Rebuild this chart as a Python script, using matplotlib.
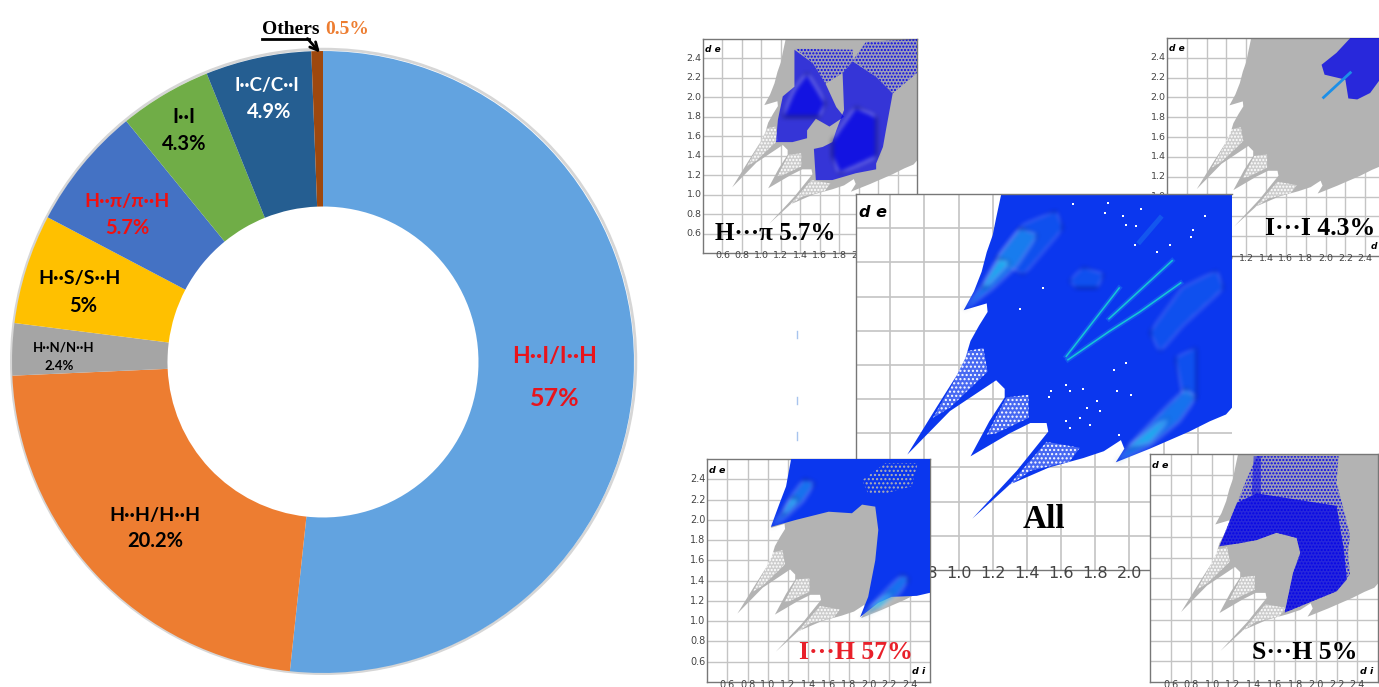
import matplotlib
matplotlib.use('Agg')
import matplotlib.pyplot as plt
from matplotlib.patches import Polygon, Circle
from matplotlib.lines import Line2D
import numpy as np

W, H = 1379, 687

# Doughnut: slice sizes as drawn (they differ a little from the printed labels)
slice_names = ['H-I', 'H-H', 'H-N', 'H-S', 'H-pi', 'I-I', 'I-C', 'Others']
slice_sizes = [51.7, 22.6, 2.7, 5.7, 6.4, 4.8, 5.5, 0.6]
slice_colors = ['#62a3e0', '#ed7d31', '#a5a5a5', '#ffc000', '#4472c4', '#70ad47', '#255e91', '#9e480e']
slice_labels = ['H··I/I··H', 'H··H/H··H', 'H··N/N··H', 'H··S/S··H', 'H··π/π··H', 'I··I', 'I··C/C··I']
slice_values = ['57%', '20.2%', '2.4%', '5%', '5.7%', '4.3%', '4.9%']

# Fingerprint outlines, (di, de)
outline = [(1.25, 2.6), (1.22, 2.46), (1.20, 2.36), (1.165, 2.26), (1.135, 2.145), (1.09, 2.03), (1.03, 1.92),
           (1.165, 1.96), (1.17, 1.91), (1.12, 1.83), (1.07, 1.74), (1.04, 1.64), (0.99, 1.54), (0.87, 1.35),
           (0.70, 1.075), (0.95, 1.33), (1.22, 1.51), (1.27, 1.46), (1.27, 1.41), (1.18, 1.27), (1.07, 1.065),
           (1.30, 1.20), (1.42, 1.26), (1.515, 1.26), (1.525, 1.21), (1.34, 0.98), (1.08, 0.70), (1.30, 0.90),
           (1.53, 1.00), (1.73, 1.055), (1.85, 1.095), (1.95, 1.16), (1.97, 1.11), (1.92, 1.03), (2.12, 1.11),
           (2.35, 1.21), (2.47, 1.27), (2.565, 1.31), (2.6, 1.35), (2.6, 2.6)]
speckle_a = [(1.05, 1.68), (1.145, 1.70), (1.17, 1.56), (0.95, 1.35), (0.85, 1.29), (0.97, 1.50)]
speckle_b = [(1.28, 1.41), (1.41, 1.425), (1.41, 1.29), (1.22, 1.20), (1.165, 1.19)]
speckle_c = [(1.515, 1.15), (1.71, 1.115), (1.65, 1.035), (1.42, 0.98), (1.28, 0.88)]
light_a = [(1.03, 1.92), (1.145, 2.07), (1.24, 2.24), (1.36, 2.40), (1.46, 2.36), (1.34, 2.18), (1.20, 2.05)]
core_a = [(1.135, 2.05), (1.24, 2.22), (1.30, 2.20), (1.165, 2.06)]
light_b = [(1.92, 1.03), (2.06, 1.19), (2.235, 1.37), (2.33, 1.46), (2.39, 1.41), (2.29, 1.27), (2.12, 1.13)]
core_b = [(1.98, 1.11), (2.16, 1.25), (2.235, 1.29), (2.12, 1.15)]
faint_c = [(1.65, 2.09), (1.73, 2.17), (1.85, 2.13), (1.81, 2.05), (1.69, 2.05)]
faint_d = [(2.12, 1.79), (2.31, 2.05), (2.51, 2.15), (2.55, 2.05), (2.31, 1.83), (2.18, 1.68)]
faint_e = [(2.27, 1.64), (2.39, 1.70), (2.39, 1.41), (2.31, 1.44)]
faint_f = [(1.22, 2.22), (1.38, 2.42), (1.57, 2.50), (1.61, 2.40), (1.38, 2.13)]
streak_1 = ([1.63, 1.94], [1.65, 2.05])
streak_2 = ([1.64, 1.88, 2.06, 2.30], [1.63, 1.795, 1.91, 2.08])
streak_3 = ([1.88, 2.25], [1.87, 2.21])
streak_4 = ([2.06, 2.18], [2.32, 2.46])
hole_x = [1.67, 1.855, 1.875, 1.98, 2.07, 1.96, 2.04, 2.44, 2.37, 2.36, 2.03, 2.16, 2.235, 1.36, 1.495, 1.98,
          1.91, 2.01, 1.93, 1.63, 1.73, 1.81, 1.65, 1.54, 1.75, 1.53, 1.83, 1.63, 1.71, 1.65, 1.77, 1.94]
hole_y = [2.54, 2.49, 2.55, 2.42, 2.515, 2.47, 2.41, 2.47, 2.39, 2.35, 2.30, 2.26, 2.30, 1.93, 2.05, 1.61,
          1.57, 1.425, 1.445, 1.48, 1.46, 1.39, 1.445, 1.445, 1.35, 1.41, 1.33, 1.27, 1.29, 1.23, 1.25, 1.19]

hpi_lobe_a = [(1.15, 1.54), (1.17, 1.77), (1.22, 2.01), (1.34, 2.11), (1.34, 2.49), (1.53, 2.35), (1.66, 2.14),
              (1.77, 1.90), (1.85, 1.80), (1.70, 1.70), (1.56, 1.78), (1.47, 1.66), (1.47, 1.58), (1.32, 1.54)]
hpi_lobe_b = [(1.54, 1.47), (1.63, 1.49), (1.73, 1.54), (1.77, 1.66), (1.85, 1.87), (1.835, 2.25), (1.94, 2.37),
              (2.18, 2.21), (2.35, 2.04), (2.28, 1.66), (2.25, 1.49), (2.18, 1.32), (2.18, 1.26), (1.97, 1.22),
              (1.73, 1.15), (1.56, 1.15)]
hpi_core_a = [(1.34, 2.075), (1.47, 2.25), (1.66, 1.94), (1.59, 1.80), (1.22, 1.80)]
hpi_core_b = [(1.73, 1.56), (1.97, 1.90), (2.18, 1.80), (2.18, 1.39), (1.80, 1.22), (1.73, 1.39)]
hpi_sparse_a = [(1.94, 2.38), (2.075, 2.57), (2.6, 2.6), (2.6, 2.25), (2.35, 2.04), (2.18, 2.21)]
hpi_sparse_b = [(1.35, 2.50), (1.94, 2.49), (1.94, 2.37), (1.835, 2.25), (1.66, 2.14), (1.53, 2.35)]

ii_region = [(1.96, 2.33), (2.11, 2.45), (2.25, 2.6), (2.6, 2.6), (2.6, 2.25), (2.45, 2.045), (2.32, 1.98),
             (2.23, 1.99), (2.20, 2.18), (1.99, 2.23)]
ii_streak = ([1.98, 2.25], [2.00, 2.25])

ih_region = [(1.03, 1.93), (1.115, 2.16), (1.18, 2.33), (1.23, 2.6), (2.6, 2.6), (2.6, 1.28), (2.47, 1.25),
             (2.22, 1.24), (2.09, 1.18), (1.91, 1.04), (1.99, 1.24), (2.06, 1.60), (2.09, 1.90), (2.06, 2.13),
             (1.93, 2.15), (1.83, 2.065), (1.60, 2.08), (1.28, 2.00)]
ih_grey = [(1.93, 2.39), (2.16, 2.56), (2.48, 2.56), (2.42, 2.33), (2.16, 2.26), (1.99, 2.26)]

sh_region = [(1.07, 1.71), (1.24, 2.13), (1.33, 2.35), (1.43, 2.58), (2.22, 2.58), (2.20, 2.32), (2.27, 2.06),
             (2.33, 1.81), (2.31, 1.645), (2.33, 1.44), (2.20, 1.275), (1.70, 1.07), (1.78, 1.45), (1.85, 1.645),
             (1.815, 1.79), (1.62, 1.84), (1.43, 1.77), (1.27, 1.74)]
sh_dense = [(1.07, 1.71), (1.24, 2.13), (1.43, 2.22), (2.20, 2.10), (2.27, 1.68), (2.30, 1.39), (2.20, 1.275),
            (1.70, 1.07), (1.78, 1.45), (1.85, 1.645), (1.815, 1.79), (1.62, 1.84), (1.43, 1.77), (1.27, 1.74)]
sh_column = [(1.40, 2.58), (1.47, 2.58), (1.47, 2.22), (1.38, 2.20)]

grid_ticks = [0.6, 0.8, 1.0, 1.2, 1.4, 1.6, 1.8, 2.0, 2.2, 2.4]
artefact_y = [(331, 338), (397, 404), (432, 440)]

GREY = '#b3b3b3'
BLUE = '#0b37ee'
PURE = '#0505e6'
SERIF = 'Liberation Serif'


def add_px_axes(left, top, right, bottom):
    return fig.add_axes([left / W, 1 - bottom / H, (right - left) / W, (bottom - top) / H])


def fig_label(x, y, s, **kw):
    fig.text(x / W, 1 - y / H, s, ha='center', va='center', **kw)


def soften(image, dpi):
    # box blur, three passes, so the density patches have no hard edge
    pad = 12
    img = np.pad(image, ((pad, pad), (pad, pad), (0, 0)))
    kernel = np.ones(5) / 5
    for _ in range(3):
        img = np.apply_along_axis(np.convolve, 0, img, kernel, mode='same')
        img = np.apply_along_axis(np.convolve, 1, img, kernel, mode='same')
    return img, -pad, -pad


def poly(ax, pts, color, alpha=1.0, z=2, soft=False):
    p = Polygon(pts, closed=True, fc=color, ec='none', alpha=alpha, zorder=z)
    ax.add_patch(p)
    if soft:
        p.set_agg_filter(soften)
        p.set_rasterized(True)
    return p


def speckle(ax, pts, color, hatch='.....', z=3):
    ax.add_patch(Polygon(pts, closed=True, fc='none', ec=color, lw=0, hatch=hatch, zorder=z))


def fingerprint_axes(box, font, line_w=1.0, xlabels=True, ylabels=True, label_y=0.375):
    ax = add_px_axes(*box)
    ax.set_xlim(0.4, 2.6)
    ax.set_ylim(0.4, 2.6)
    ax.set_xticks([])
    ax.set_yticks([])
    for s in ax.spines.values():
        s.set_color('#777777')
        s.set_linewidth(1.0)
    for t in grid_ticks:
        ax.axvline(t, color='#c4c4c4', lw=line_w, zorder=0.5)
        ax.axhline(t, color='#c4c4c4', lw=line_w, zorder=0.5)
        if xlabels:
            ax.text(t, label_y, f'{t:.1f}', ha='center', va='center', fontsize=font, color='#444444', clip_on=False)
        if ylabels:
            ax.text(0.385, t, f'{t:.1f}', ha='right', va='center', fontsize=font, color='#444444', clip_on=False)
    return ax


def axis_names(ax, size, di='d i'):
    ax.text(0.5, 2.49, 'd e', fontsize=size, fontweight='bold', style='italic', ha='center', va='center', zorder=6)
    if di:
        ax.text(2.49, 0.5, di, fontsize=size, fontweight='bold', style='italic', ha='center', va='center', zorder=6)


def grey_base(ax):
    poly(ax, outline, GREY)
    for pts in (speckle_a, speckle_b, speckle_c):
        poly(ax, pts, 'white', 0.35, z=2.5)
        speckle(ax, pts, 'white')


def big_text(ax, x, y, s, size, color='black', ha='left'):
    ax.text(x, y, s, family=SERIF, fontweight='bold', fontsize=size, color=color, ha=ha, va='center', zorder=7)


def sparse(ax, pts, z=3):
    poly(ax, pts, PURE, 0.12, z=z)
    speckle(ax, pts, PURE, hatch='.....', z=z)


fig = plt.figure(figsize=(W / 100, H / 100), dpi=100)

# doughnut on the left
pie_ax = add_px_axes(3, 42, 643, 682)
pie_ax.add_patch(Circle((0.002, 0.002), 1.004, fc='none', ec='#d6d6d6', lw=2, zorder=0))
pie_ax.pie(slice_sizes, colors=slice_colors, startangle=90, counterclock=False, radius=1,
           wedgeprops=dict(width=0.5))
pie_ax.set_xlim(-1.029, 1.029)
pie_ax.set_ylim(-1.029, 1.029)

label_x = [555, 155, 64, 80, 127, 184, 267]
label_y = [357, 515, 348, 279, 201, 117, 85]
value_x = [555, 155, 59, 83, 127, 184, 269]
value_y = [399, 541, 366, 306, 228, 144, 112]
label_colors = ['#e8141c', 'black', 'black', 'black', '#f01010', 'black', 'white']
label_sizes = [16.5, 14, 9.5, 14, 14, 14.5, 13.5]
value_sizes = [18, 14.5, 9.5, 14.5, 14.5, 14.5, 14.5]
for i in range(len(slice_labels)):
    fig_label(label_x[i], label_y[i], slice_labels[i], family='Lato', fontweight='bold',
              fontsize=label_sizes[i], color=label_colors[i])
    fig_label(value_x[i], value_y[i], slice_values[i], family='Lato', fontweight='bold',
              fontsize=value_sizes[i], color=label_colors[i])

fig_label(291, 29, 'Others', family=SERIF, fontweight='bold', fontsize=14, color='black')
fig_label(347, 29, '0.5%', family=SERIF, fontweight='bold', fontsize=14, color='#ed7d31')
fig.add_artist(Line2D([262 / W, 309 / W], [1 - 39 / H, 1 - 39 / H], color='black', lw=2))
pie_ax.annotate('', xy=(-0.01, 0.995), xytext=(-0.05, 1.04), annotation_clip=False,
                arrowprops=dict(arrowstyle='->', color='black', lw=2, shrinkA=0, shrinkB=0, mutation_scale=14))

# H...pi panel
ax1 = fingerprint_axes((703, 39, 917, 253), 6.8)
grey_base(ax1)
sparse(ax1, hpi_sparse_a)
sparse(ax1, hpi_sparse_b)
poly(ax1, hpi_lobe_a, PURE, 0.72, z=3)
poly(ax1, hpi_lobe_b, PURE, 0.72, z=3)
poly(ax1, hpi_core_a, PURE, 0.7, z=3.1, soft=True)
poly(ax1, hpi_core_b, PURE, 0.7, z=3.1, soft=True)
axis_names(ax1, 6.5, di=None)
big_text(ax1, 0.525, 0.6, 'H···π 5.7%', 18)

# I...I panel, runs off the right of the picture
ax2 = fingerprint_axes((1167, 38, 1385, 256), 6.8)
grey_base(ax2)
poly(ax2, ii_region, PURE, 0.8, z=3)
ax2.plot(ii_streak[0], ii_streak[1], color='#1c8fe8', lw=2, zorder=4)
axis_names(ax2, 6.5, di='d')
big_text(ax2, 1.386, 0.676, 'I···I 4.3%', 18.5)

# main "All" panel
ax0 = fingerprint_axes((856, 194, 1232, 570), 11.5, line_w=1.2, ylabels=False, label_y=0.378)
ax0.spines['right'].set_visible(False)
poly(ax0, outline, BLUE)
for pts in (faint_c, faint_d, faint_e, faint_f):
    poly(ax0, pts, '#1470f0', 0.45, z=2.2, soft=True)
for pts in (speckle_a, speckle_b, speckle_c):
    poly(ax0, pts, 'white', 0.25, z=2.5)
    speckle(ax0, pts, 'white', hatch='....')
poly(ax0, light_a, '#1f9bef', 0.6, z=3, soft=True)
poly(ax0, light_b, '#1f9bef', 0.6, z=3, soft=True)
poly(ax0, core_a, '#20d0f0', 0.6, z=3.2, soft=True)
poly(ax0, core_b, '#20d0f0', 0.6, z=3.2, soft=True)
for sx, sy in (streak_1, streak_2, streak_3, streak_4):
    ax0.plot(sx, sy, color='#1e7cf0', lw=3.5, alpha=0.45, zorder=3.5)
for sx, sy in (streak_1, streak_2, streak_3):
    ax0.plot(sx, sy, color='#16c8d8', lw=1.1, zorder=3.6)
ax0.plot(hole_x, hole_y, ls='none', marker='s', ms=1.8, color='white', mew=0, zorder=4)
axis_names(ax0, 11.5, di=None)
big_text(ax0, 1.5, 0.696, 'All', 24, ha='center')

# I...H panel
ax3 = fingerprint_axes((707, 459, 930, 682), 7)
grey_base(ax3)
poly(ax3, ih_region, BLUE, z=3)
speckle(ax3, ih_grey, GREY, hatch='....', z=3.2)
poly(ax3, light_a, '#1f9bef', 0.6, z=3.3, soft=True)
poly(ax3, light_b, '#1f9bef', 0.6, z=3.3, soft=True)
poly(ax3, core_a, '#20d0f0', 0.6, z=3.4, soft=True)
poly(ax3, core_b, '#20d0f0', 0.6, z=3.4, soft=True)
axis_names(ax3, 6.8)
big_text(ax3, 1.31, 0.692, 'I···H 57%', 18.5, color='#e8202a')

# S...H panel
ax4 = fingerprint_axes((1150, 454, 1378, 682), 7, ylabels=False)
grey_base(ax4)
sparse(ax4, sh_region)
poly(ax4, sh_dense, PURE, 0.78, z=3.1)
poly(ax4, sh_column, PURE, 0.5, z=3.1)
axis_names(ax4, 6.8)
big_text(ax4, 1.381, 0.689, 'S···H 5%', 18.5)

# stray blue marks left over between the panels
for y0, y1 in artefact_y:
    fig.add_artist(Line2D([796.5 / W, 796.5 / W], [1 - y0 / H, 1 - y1 / H], color='#a8c4ee', lw=1))

fig.savefig('out.png', dpi=100)
